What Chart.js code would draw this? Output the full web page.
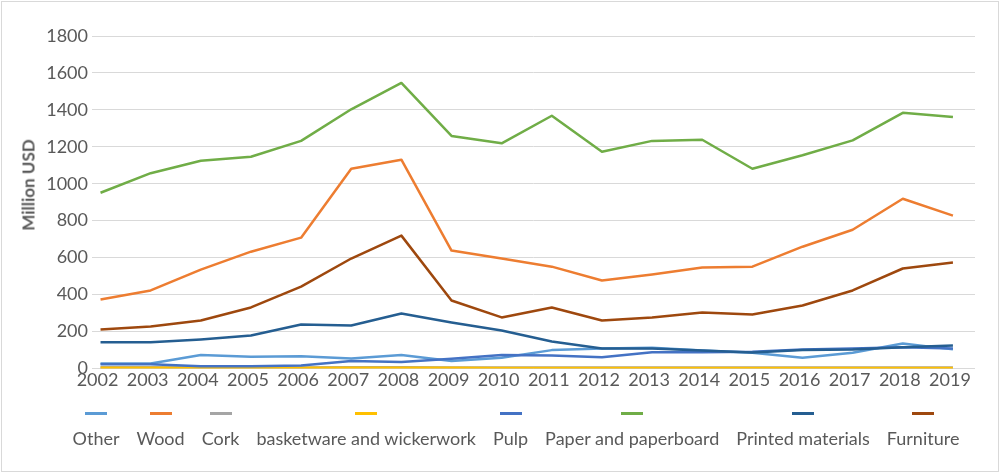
<!DOCTYPE html>
<html>
<head>
<meta charset="utf-8">
<script src="https://cdn.jsdelivr.net/npm/chart.js@4.4.1/dist/chart.umd.min.js"></script>
<style>
  html, body { margin: 0; padding: 0; background: #fff; }
  .wrap { position: relative; width: 1000px; height: 473px; font-family: Lato, sans-serif; }
  .frame { position: absolute; left: 1px; top: 1px; width: 996px; height: 469px; border: 1px solid #d9d9d9; pointer-events: none; }
  .ytitle { position: absolute; left: 28px; top: 185px; transform: translate(-50%, -50%) rotate(-90deg);
            font-weight: bold; font-size: 17px; color: #595959; white-space: nowrap; }
  .legend { position: absolute; left: 0; top: 412px; width: 1000px; padding-left: 32px; box-sizing: border-box;
            display: flex; justify-content: center; gap: 17px; }
  .legend .item { display: flex; flex-direction: column; align-items: center; }
  .legend .mark { width: 22px; height: 3px; margin-bottom: 12px; }
  .legend .label { font-size: 18px; line-height: 22px; color: #595959; white-space: nowrap; }
</style>
</head>
<body>
<div class="wrap">
  <canvas id="myChart"></canvas>
  <div class="ytitle">Million USD</div>
  <div class="legend" id="legend"></div>
  <div class="frame"></div>
</div>
<script>
const years = [2002, 2003, 2004, 2005, 2006, 2007, 2008, 2009, 2010, 2011, 2012, 2013, 2014, 2015, 2016, 2017, 2018, 2019];

const other      = [27, 27, 72, 63, 66, 54, 72, 40, 58, 99, 108, 112, 97, 85, 58, 85, 135, 103];
const wood       = [373, 422, 535, 632, 708, 1081, 1130, 638, 595, 551, 476, 508, 546, 551, 659, 751, 919, 827];
const cork       = [6, 6, 5, 5, 5, 6, 6, 5, 5, 5, 5, 5, 5, 5, 5, 5, 5, 5];
const basketware = [3, 3, 3, 3, 3, 3, 3, 3, 2, 2, 2, 2, 2, 2, 2, 2, 2, 2];
const pulp       = [22, 22, 12, 12, 16, 40, 34, 52, 72, 70, 61, 88, 88, 90, 103, 108, 115, 108];
const paper      = [951, 1057, 1124, 1146, 1232, 1403, 1546, 1259, 1219, 1368, 1173, 1232, 1238, 1081, 1154, 1235, 1384, 1362];
const printed    = [141, 141, 157, 178, 238, 232, 297, 249, 205, 146, 108, 108, 97, 86, 99, 103, 114, 124];
const furniture  = [211, 227, 259, 330, 443, 595, 719, 368, 276, 330, 259, 276, 303, 292, 341, 422, 541, 573];

const seriesNames = ["Other", "Wood", "Cork", "basketware and wickerwork", "Pulp", "Paper and paperboard", "Printed materials", "Furniture"];
const seriesData = [other, wood, cork, basketware, pulp, paper, printed, furniture];
const seriesColors = ["#5B9BD5", "#ED7D31", "#A5A5A5", "#FFC000", "#4472C4", "#70AD47", "#255E91", "#9E480E"];

const yTicks = [0, 200, 400, 600, 800, 1000, 1200, 1400, 1600, 1800];

Chart.defaults.font.family = "Lato, sans-serif";
Chart.defaults.color = "#595959";

const datasets = seriesNames.map((name, i) => ({
  label: name,
  data: seriesData[i].map((v, j) => ({ x: years[j], y: v })),
  borderColor: seriesColors[i],
  backgroundColor: seriesColors[i],
  borderWidth: 2.5,
  borderJoinStyle: "round",
  pointRadius: 0,
  tension: 0,
  // later series sit on top
  order: seriesNames.length - i
}));

const ctx = document.getElementById("myChart").getContext("2d");
const myChart = new Chart(ctx, {
  type: "line",
  data: { datasets },
  options: {
    responsive: true,
    maintainAspectRatio: false,
    animation: false,
    layout: { padding: { top: 36, right: 25, bottom: 81, left: 0 } },
    plugins: { legend: { display: false }, tooltip: { enabled: false } },
    scales: {
      x: {
        type: "linear",
        min: 2001.83,
        max: 2019.44,
        grid: { display: false, drawTicks: false },
        border: { display: false },
        ticks: {
          stepSize: 1,
          includeBounds: false,
          autoSkip: false,
          maxRotation: 0,
          padding: 1,
          labelOffset: -3,
          font: { size: 18 },
          color: "#595959",
          callback: (v) => Number.isInteger(v) ? String(v) : ""
        }
      },
      y: {
        min: yTicks[0],
        max: yTicks[yTicks.length - 1],
        afterFit: (scale) => { scale.width = 92; },
        afterBuildTicks: (scale) => { scale.ticks = yTicks.map(v => ({ value: v })); },
        grid: { color: "#d9d9d9", lineWidth: 1, drawTicks: false },
        border: { display: false },
        ticks: { padding: 4, font: { size: 18 }, color: "#595959", callback: (v) => String(v) }
      }
    }
  }
});

// legend: short line above each name
const legendEl = document.getElementById("legend");
seriesNames.forEach((name, i) => {
  const item = document.createElement("div");
  item.className = "item";
  item.innerHTML = '<div class="mark" style="background:' + seriesColors[i] + '"></div><div class="label">' + name + '</div>';
  legendEl.appendChild(item);
});
</script>
</body>
</html>
